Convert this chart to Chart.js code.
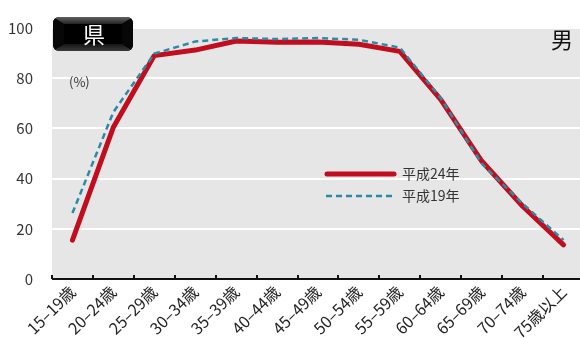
<!DOCTYPE html>
<html><head><meta charset="utf-8">
<script src="https://cdn.jsdelivr.net/npm/chart.js@4"></script>
<style>
html,body{margin:0;padding:0;background:#fff;overflow:hidden;width:580px;height:338px}
#wrap{width:584px;height:338px;position:relative}
</style>
</head><body>
<div id="wrap"><canvas id="c" width="584" height="338"></canvas></div>
<script>
const categories = ["15–19歳","20–24歳","25–29歳","30–34歳","35–39歳","40–44歳","45–49歳","50–54歳","55–59歳","60–64歳","65–69歳","70–74歳","75歳以上"];
const seriesH24 = [15.5, 60.5, 89.0, 91.2, 94.8, 94.3, 94.4, 93.5, 90.7, 71.5, 47.0, 29.0, 13.6];
const seriesH19 = [26.3, 66.5, 89.8, 94.6, 96.0, 95.6, 96.0, 95.3, 92.2, 72.0, 46.0, 30.0, 15.5];
const yTicks = [0, 20, 40, 60, 80, 100];
const legendLabels = ["平成24年", "平成19年"];
const badgeText = "県";
const sexText = "男";
const unitText = "(%)";

const RED = "#c10d1d";
const BLUE = "#2a8ba6";
const FONT = "'Noto Sans CJK JP', 'Noto Sans', sans-serif";

const decor = {
  id: "decor",
  beforeDraw(chart) {
    const {ctx, chartArea: a} = chart;
    ctx.save();
    ctx.fillStyle = "#e6e6e6";
    ctx.fillRect(a.left, a.top, a.right - a.left, a.bottom - a.top);
    ctx.restore();
  },
  afterDraw(chart) {
    const {ctx, chartArea: a} = chart;
    ctx.save();
    // x axis line and inward ticks
    ctx.strokeStyle = "#111";
    ctx.lineWidth = 2;
    ctx.beginPath();
    ctx.moveTo(a.left, a.bottom);
    ctx.lineTo(a.right, a.bottom);
    ctx.stroke();
    const n = categories.length;
    const step = (a.right - a.left) / n;
    for (let i = 0; i <= n; i++) {
      const px = Math.round(a.left + i * step);
      ctx.beginPath();
      ctx.moveTo(px, a.bottom);
      ctx.lineTo(px, a.bottom - 4);
      ctx.stroke();
    }
    // badge (pillow bevel)
    const bx = 53, by = 17, bw = 80, bh = 34, r = 6, inset = 7;
    ctx.beginPath();
    ctx.roundRect(bx, by, bw, bh, r);
    ctx.fillStyle = "#111";
    ctx.fill();
    ctx.save();
    ctx.clip();
    const ix0 = bx + inset + 4, ix1 = bx + bw - inset - 4, iy0 = by + inset, iy1 = by + bh - inset;
    let g = ctx.createLinearGradient(0, by, 0, iy0);
    g.addColorStop(0, "#606060"); g.addColorStop(1, "#252525");
    ctx.fillStyle = g;
    ctx.beginPath();
    ctx.moveTo(bx, by); ctx.lineTo(bx + bw, by); ctx.lineTo(ix1, iy0); ctx.lineTo(ix0, iy0); ctx.closePath();
    ctx.fill();
    g = ctx.createLinearGradient(0, iy1, 0, by + bh);
    g.addColorStop(0, "#151515"); g.addColorStop(1, "#3a3a3a");
    ctx.fillStyle = g;
    ctx.beginPath();
    ctx.moveTo(bx, by + bh); ctx.lineTo(bx + bw, by + bh); ctx.lineTo(ix1, iy1); ctx.lineTo(ix0, iy1); ctx.closePath();
    ctx.fill();
    ctx.fillStyle = "#070707";
    ctx.beginPath();
    ctx.moveTo(bx, by); ctx.lineTo(ix0, iy0); ctx.lineTo(ix0, iy1); ctx.lineTo(bx, by + bh); ctx.closePath();
    ctx.fill();
    ctx.beginPath();
    ctx.moveTo(bx + bw, by); ctx.lineTo(ix1, iy0); ctx.lineTo(ix1, iy1); ctx.lineTo(bx + bw, by + bh); ctx.closePath();
    ctx.fill();
    ctx.fillStyle = "#000";
    ctx.fillRect(ix0, iy0, ix1 - ix0, iy1 - iy0);
    ctx.restore();
    ctx.fillStyle = "#fff";
    ctx.font = "400 22px " + FONT;
    ctx.textAlign = "center";
    ctx.textBaseline = "middle";
    ctx.fillText(badgeText, bx + bw / 2 + 1, by + bh / 2 + 1);
    // sex label
    ctx.fillStyle = "#111";
    ctx.font = "400 22px " + FONT;
    ctx.textAlign = "center";
    ctx.fillText(sexText, 562, 40);
    // unit
    ctx.fillStyle = "#333";
    ctx.font = "13px " + FONT;
    ctx.textAlign = "left";
    ctx.fillText(unitText, 69, 82);
    // legend
    ctx.lineCap = "round";
    ctx.strokeStyle = RED;
    ctx.lineWidth = 5;
    ctx.beginPath();
    ctx.moveTo(327, 174); ctx.lineTo(394, 174); ctx.stroke();
    ctx.lineCap = "butt";
    ctx.strokeStyle = BLUE;
    ctx.lineWidth = 2.5;
    ctx.setLineDash([6, 4]);
    ctx.beginPath();
    ctx.moveTo(326, 196); ctx.lineTo(393, 196); ctx.stroke();
    ctx.setLineDash([]);
    ctx.fillStyle = "#333";
    ctx.font = "14px " + FONT;
    ctx.textAlign = "left";
    ctx.fillText(legendLabels[0], 402, 174);
    ctx.fillText(legendLabels[1], 402, 196);
    ctx.restore();
  }
};

new Chart(document.getElementById("c"), {
  type: "line",
  data: {
    labels: categories,
    datasets: [
      {label: legendLabels[0], data: seriesH24, borderColor: RED, borderWidth: 5,
       borderCapStyle: "round", borderJoinStyle: "round", pointRadius: 0, tension: 0, order: 1},
      {label: legendLabels[1], data: seriesH19, borderColor: BLUE, borderWidth: 2.5,
       borderDash: [6, 4], pointRadius: 0, tension: 0, order: 0}
    ]
  },
  options: {
    responsive: false,
    animation: false,
    layout: {padding: {top: 18, right: 0, left: 0, bottom: 0}},
    plugins: {legend: {display: false}, tooltip: {enabled: false}},
    scales: {
      x: {
        offset: true,
        grid: {display: false, drawTicks: false},
        border: {display: false},
        ticks: {color: "#222", font: {family: FONT, size: 16}, minRotation: 45, maxRotation: 45, padding: 3, autoSkip: false},
        afterFit(s) { s.height = 59; }
      },
      y: {
        min: 0, max: 100,
        afterBuildTicks(s) { s.ticks = yTicks.map(v => ({value: v})); },
        grid: {color: "#ffffff", lineWidth: 2, drawTicks: false},
        border: {display: false},
        ticks: {color: "#333", font: {family: FONT, size: 15}, padding: 19},
        afterFit(s) { s.width = 52; }
      }
    }
  },
  plugins: [decor]
});
</script>
</body></html>
